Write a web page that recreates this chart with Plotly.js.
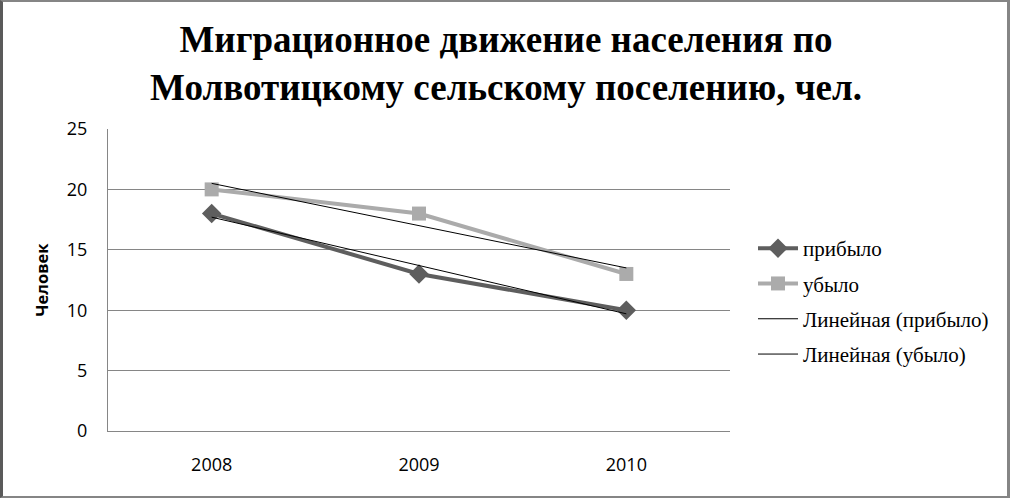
<!DOCTYPE html>
<html>
<head>
<meta charset="utf-8">
<script src="https://cdn.plot.ly/plotly-3.0.1.min.js"></script>
<style>
  html, body { margin: 0; padding: 0; background: #fff; }
  #wrap { position: relative; width: 1012px; height: 498px; overflow: hidden; }
  #chart { position: absolute; left: 0; top: 0; width: 1012px; height: 498px; }
  #frame { position: absolute; left: 0; top: 0; width: 1010px; height: 498px; box-sizing: border-box;
           border-top: 2px solid #858585; border-left: 3px solid #5a5a5a; border-right: 3px solid #858585;
           border-bottom: 2px solid #858585; pointer-events: none; }
</style>
</head>
<body>
<div id="wrap">
  <div id="chart"></div>
  <div id="frame"></div>
</div>
<script>
const years = ['2008', '2009', '2010'];
const arrived = [18, 13, 10];          // прибыло
const departed = [20, 18, 13];         // убыло
const trendArrived = [17.7, 13.7, 9.7];  // Линейная (прибыло)
const trendDeparted = [20.5, 17, 13.5];  // Линейная (убыло)
const yTicks = [0, 5, 10, 15, 20, 25];

const traces = [
  { x: years, y: arrived, name: 'прибыло', type: 'scatter', mode: 'lines+markers',
    line: { color: '#5e5e5e', width: 4 }, marker: { symbol: 'diamond', size: 15, color: '#5e5e5e' },
    legendgroup: 'a' },
  { x: years, y: departed, name: 'убыло', type: 'scatter', mode: 'lines+markers',
    line: { color: '#ababab', width: 4 }, marker: { symbol: 'square', size: 14, color: '#ababab' },
    legendgroup: 'b' },
  { x: years, y: trendArrived, name: 'Линейная (прибыло)', type: 'scatter', mode: 'lines',
    line: { color: '#000000', width: 1 }, legendgroup: 'c' },
  { x: years, y: trendDeparted, name: 'Линейная (убыло)', type: 'scatter', mode: 'lines',
    line: { color: '#000000', width: 1 }, legendgroup: 'd' }
];

const layout = {
  width: 1012, height: 498,
  margin: { l: 108, r: 282, t: 129, b: 67 },
  paper_bgcolor: '#ffffff', plot_bgcolor: '#ffffff',
  title: {
    text: 'Миграционное движение населения по<br>Молвотицкому сельскому поселению, чел.',
    font: { family: 'Liberation Serif, Times New Roman, serif', size: 37, color: '#000', weight: 'bold' },
    x: 0.5, xanchor: 'center', xref: 'container',
    y: 1 - 52 / 498, yanchor: 'middle', yref: 'container'
  },
  xaxis: {
    type: 'category', range: [-0.5, 2.5],
    showgrid: false, showline: true, linecolor: '#868686', linewidth: 1,
    ticks: '', tickfont: { family: 'Open Sans, sans-serif', size: 18, color: '#000' },
    ticklabelstandoff: 17, zeroline: false
  },
  yaxis: {
    range: [0, 25], tickvals: yTicks, ticktext: yTicks.map(String),
    showgrid: true, gridcolor: '#868686', gridwidth: 1,
    showline: true, linecolor: '#868686', linewidth: 1,
    ticks: '', tickfont: { family: 'Open Sans, sans-serif', size: 18, color: '#000' },
    ticklabelstandoff: 16, zeroline: false,
    title: { text: 'Человек', font: { family: 'Open Sans, sans-serif', size: 16.5, color: '#000', weight: 'bold' }, standoff: 14 }
  },
  showlegend: true,
  legend: {
    x: (753 - 108) / 622, xanchor: 'left', y: (431 - 228) / 302, yanchor: 'top',
    font: { family: 'Liberation Serif, Times New Roman, serif', size: 21, color: '#000' },
    traceorder: 'grouped', tracegroupgap: 5, itemwidth: 40, bgcolor: 'rgba(0,0,0,0)'
  }
};

Plotly.newPlot('chart', traces, layout, { displayModeBar: false, staticPlot: true });
</script>
</body>
</html>
